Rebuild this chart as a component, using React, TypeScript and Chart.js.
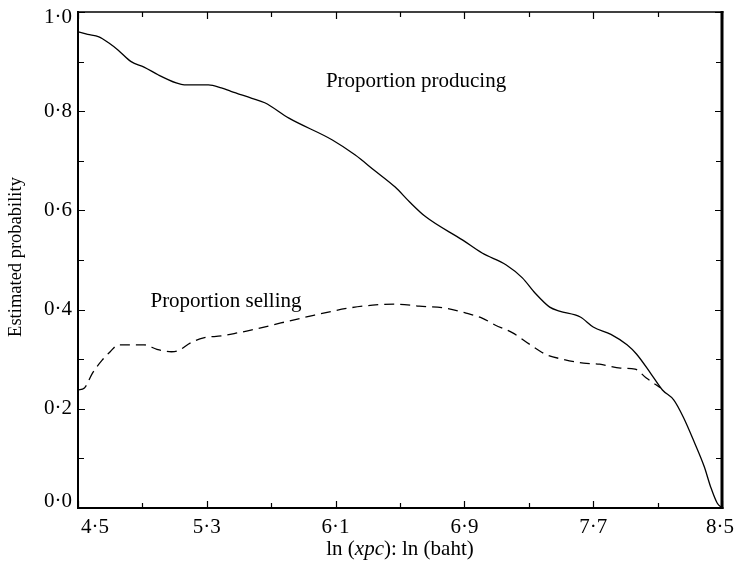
import { useEffect, useRef } from "react";
import { Chart, registerables } from "chart.js";

Chart.register(...registerables);

// ln(per-capita expenditure) grid and estimated probabilities
const producingX = [4.5, 4.56, 4.63, 4.69, 4.75, 4.83, 4.91, 5.0, 5.11, 5.16, 5.31, 5.39, 5.45, 5.58, 5.66, 5.81, 6.08, 6.22, 6.34, 6.47, 6.56, 6.66, 6.89, 7.01, 7.16, 7.26, 7.34, 7.43, 7.49, 7.62, 7.7, 7.81, 7.91, 7.97, 8.06, 8.13, 8.2, 8.26, 8.33, 8.39, 8.43, 8.47, 8.5];
const producingY = [0.96, 0.955, 0.95, 0.938, 0.923, 0.9, 0.889, 0.873, 0.857, 0.853, 0.853, 0.847, 0.84, 0.826, 0.817, 0.786, 0.742, 0.712, 0.681, 0.647, 0.617, 0.587, 0.54, 0.514, 0.49, 0.464, 0.433, 0.405, 0.397, 0.385, 0.365, 0.35, 0.329, 0.31, 0.27, 0.238, 0.218, 0.183, 0.131, 0.083, 0.042, 0.01, 0.0];

const sellingX = [4.5, 4.54, 4.59, 4.65, 4.7, 4.75, 4.91, 4.99, 5.08, 5.12, 5.2, 5.28, 5.39, 5.49, 5.58, 5.76, 5.97, 6.18, 6.33, 6.47, 6.62, 6.78, 6.91, 7.01, 7.09, 7.2, 7.31, 7.41, 7.51, 7.64, 7.74, 7.87, 7.96, 8.03, 8.12];
const sellingY = [0.238, 0.242, 0.272, 0.298, 0.315, 0.329, 0.329, 0.32, 0.315, 0.317, 0.333, 0.343, 0.347, 0.353, 0.359, 0.373, 0.389, 0.403, 0.409, 0.411, 0.407, 0.403, 0.393, 0.383, 0.369, 0.353, 0.329, 0.309, 0.3, 0.292, 0.29, 0.282, 0.28, 0.262, 0.242];

const xMajorTicks = [4.5, 5.3, 6.1, 6.9, 7.7, 8.5];
const xMinorTicks = [4.9, 5.7, 6.5, 7.3, 8.1];
const yMajorTicks = [0, 0.2, 0.4, 0.6, 0.8, 1.0];
const yMinorTicks = [0.1, 0.3, 0.5, 0.7, 0.9];

const producingLabel = "Proportion producing";
const sellingLabel = "Proportion selling";
const producingLabelPos = [6.04, 0.849];
const sellingLabelPos = [4.95, 0.405];

const yTitle = "Estimated probability";

const SERIF = '"Liberation Serif", "DejaVu Serif", serif';

const fmt = (v: number) => v.toFixed(1).replace(".", "\u00B7");

const framePlugin = {
  id: "frame",
  afterDraw(chart: any) {
    const { ctx, chartArea: a, scales } = chart;
    const xs = scales.x;
    const ys = scales.y;
    ctx.save();
    ctx.strokeStyle = "#000";
    ctx.fillStyle = "#000";
    ctx.lineCap = "butt";

    // frame
    const side = (x1: number, y1: number, x2: number, y2: number, w: number) => {
      ctx.lineWidth = w;
      ctx.beginPath();
      ctx.moveTo(x1, y1);
      ctx.lineTo(x2, y2);
      ctx.stroke();
    };
    side(a.left, a.top - 1, a.left, a.bottom + 1, 2);
    side(a.left - 1, a.bottom, a.right + 1.5, a.bottom, 2);
    side(a.left - 1, a.top, a.right + 1.5, a.top, 1.5);
    side(a.right, a.top - 1, a.right, a.bottom + 1, 3);

    // inward ticks on all four sides
    ctx.lineWidth = 1.2;
    const xTick = (v: number, len: number) => {
      const px = Math.round(xs.getPixelForValue(v)) + 0.5;
      ctx.beginPath();
      ctx.moveTo(px, a.bottom);
      ctx.lineTo(px, a.bottom - len);
      ctx.moveTo(px, a.top);
      ctx.lineTo(px, a.top + len);
      ctx.stroke();
    };
    const yTick = (v: number, len: number) => {
      const py = Math.round(ys.getPixelForValue(v)) + 0.5;
      ctx.beginPath();
      ctx.moveTo(a.left, py);
      ctx.lineTo(a.left + len, py);
      ctx.moveTo(a.right, py);
      ctx.lineTo(a.right - len, py);
      ctx.stroke();
    };
    xMajorTicks.forEach((v) => xTick(v, 7));
    xMinorTicks.forEach((v) => xTick(v, 5));
    yMajorTicks.forEach((v) => yTick(v, 7));
    yMinorTicks.forEach((v) => yTick(v, 6));

    // tick labels
    ctx.font = `21px ${SERIF}`;
    ctx.textBaseline = "middle";
    ctx.textAlign = "right";
    yMajorTicks.forEach((v, i) => {
      let py = ys.getPixelForValue(v);
      if (i === 0) py -= 7;
      if (i === yMajorTicks.length - 1) py += 5;
      ctx.fillText(fmt(v), a.left - 6, py);
    });
    ctx.textBaseline = "alphabetic";
    ctx.textAlign = "center";
    xMajorTicks.forEach((v, i) => {
      let px = xs.getPixelForValue(v);
      if (i === 0) px += 17;
      if (i === xMajorTicks.length - 1) px -= 2;
      ctx.fillText(fmt(v), px, a.bottom + 25);
    });

    // x axis title with italic variable name
    const parts: [string, string][] = [
      ["ln (", `21px ${SERIF}`],
      ["xpc", `italic 21px ${SERIF}`],
      ["): ln (baht)", `21px ${SERIF}`],
    ];
    let total = 0;
    parts.forEach(([t, f]) => {
      ctx.font = f;
      total += ctx.measureText(t).width;
    });
    let cx = (a.left + a.right) / 2 - total / 2;
    ctx.textAlign = "left";
    parts.forEach(([t, f]) => {
      ctx.font = f;
      ctx.fillText(t, cx, a.bottom + 47);
      cx += ctx.measureText(t).width;
    });

    // y axis title
    ctx.save();
    ctx.font = `18.5px ${SERIF}`;
    ctx.translate(21, (a.top + a.bottom) / 2 - 3);
    ctx.rotate(-Math.PI / 2);
    ctx.textAlign = "center";
    ctx.textBaseline = "alphabetic";
    ctx.fillText(yTitle, 0, 0);
    ctx.restore();

    // curve labels
    ctx.font = `21px ${SERIF}`;
    ctx.textAlign = "left";
    ctx.textBaseline = "alphabetic";
    ctx.fillText(producingLabel, xs.getPixelForValue(producingLabelPos[0]), ys.getPixelForValue(producingLabelPos[1]));
    ctx.fillText(sellingLabel, xs.getPixelForValue(sellingLabelPos[0]), ys.getPixelForValue(sellingLabelPos[1]));

    ctx.restore();
  },
};

export default function App() {
  const ref = useRef<HTMLCanvasElement | null>(null);

  useEffect(() => {
    if (!ref.current) return;
    const chart = new Chart(ref.current, {
      type: "line",
      data: {
        datasets: [
          {
            label: producingLabel,
            data: producingX.map((x, i) => ({ x, y: producingY[i] })),
            borderColor: "#000",
            borderWidth: 1.3,
            pointRadius: 0,
            cubicInterpolationMode: "monotone",
            fill: false,
          },
          {
            label: sellingLabel,
            data: sellingX.map((x, i) => ({ x, y: sellingY[i] })),
            borderColor: "#000",
            borderWidth: 1.3,
            borderDash: [10, 6],
            pointRadius: 0,
            cubicInterpolationMode: "monotone",
            fill: false,
          },
        ],
      },
      options: {
        responsive: false,
        animation: false,
        layout: { padding: { left: 78, top: 12, right: 14, bottom: 58 } },
        plugins: {
          legend: { display: false },
          tooltip: { enabled: false },
        },
        scales: {
          x: { type: "linear", min: 4.5, max: 8.5, display: false },
          y: { type: "linear", min: 0, max: 1, display: false },
        },
      },
      plugins: [framePlugin],
    });
    return () => chart.destroy();
  }, []);

  return (
    <div style={{ position: "fixed", left: 0, top: 0, width: 736, height: 566, background: "#fff" }}>
      <canvas ref={ref} width={736} height={566} style={{ display: "block" }} />
    </div>
  );
}
